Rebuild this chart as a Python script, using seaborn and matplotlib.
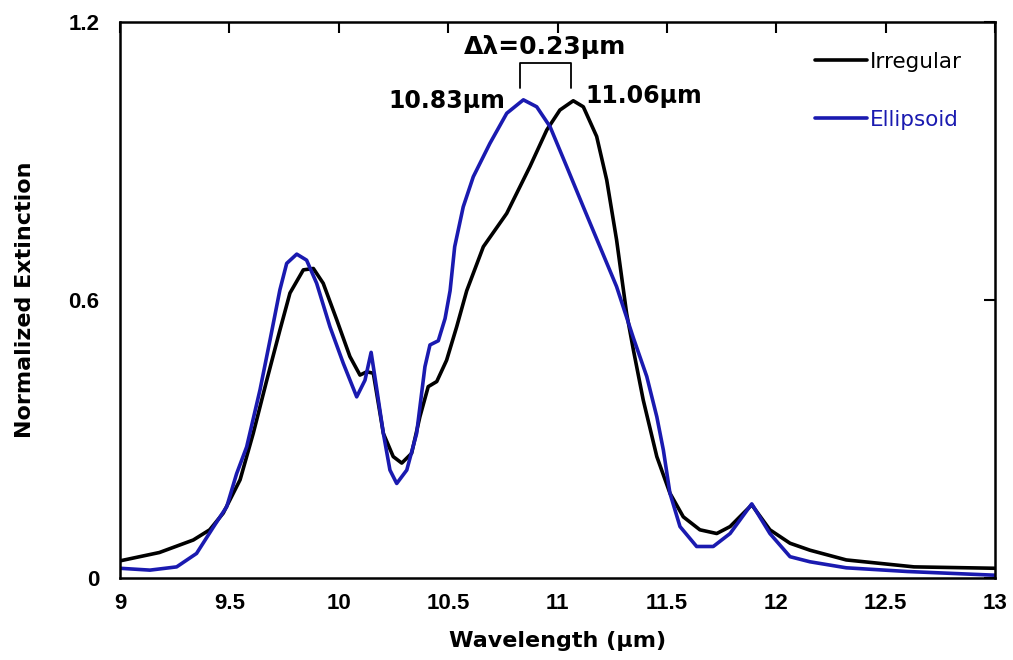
import numpy as np
import pandas as pd
import matplotlib
matplotlib.use("Agg")
import matplotlib.pyplot as plt
import seaborn as sns

# ---------------- data ----------------
irr_x = [9.0, 9.18, 9.335, 9.41, 9.472, 9.549, 9.609, 9.671, 9.731, 9.777, 9.838, 9.884,
         9.929, 9.991, 10.051, 10.097, 10.128, 10.158, 10.204, 10.249, 10.288, 10.333,
         10.371, 10.409, 10.448, 10.493, 10.539, 10.585, 10.661, 10.768, 10.874, 10.951,
         11.011, 11.072, 11.118, 11.179, 11.225, 11.27, 11.316, 11.347, 11.392, 11.454,
         11.514, 11.575, 11.651, 11.728, 11.789, 11.888, 11.971, 12.063, 12.154, 12.32,
         12.63, 13.0]
irr_y = [0.037, 0.055, 0.082, 0.104, 0.14, 0.212, 0.312, 0.427, 0.535, 0.615, 0.665, 0.668,
         0.636, 0.557, 0.478, 0.438, 0.445, 0.442, 0.312, 0.262, 0.248, 0.269,
         0.348, 0.413, 0.424, 0.47, 0.542, 0.62, 0.715, 0.787, 0.888, 0.967,
         1.01, 1.03, 1.017, 0.953, 0.859, 0.73, 0.571, 0.492, 0.384, 0.262,
         0.183, 0.132, 0.104, 0.096, 0.111, 0.158, 0.104, 0.075, 0.06, 0.039,
         0.024, 0.021]

ell_x = [9.0, 9.137, 9.259, 9.35, 9.427, 9.488, 9.533, 9.579, 9.64, 9.686, 9.731, 9.762,
         9.808, 9.853, 9.899, 9.96, 10.021, 10.082, 10.12, 10.148, 10.173, 10.204, 10.234,
         10.265, 10.311, 10.356, 10.394, 10.417, 10.455, 10.486, 10.509, 10.53, 10.569,
         10.615, 10.691, 10.768, 10.844, 10.905, 10.966, 11.042, 11.118, 11.194, 11.27,
         11.347, 11.408, 11.454, 11.484, 11.514, 11.56, 11.636, 11.712, 11.789, 11.888,
         11.971, 12.063, 12.154, 12.32, 12.6, 13.0]
ell_y = [0.021, 0.017, 0.024, 0.053, 0.11, 0.154, 0.225, 0.283, 0.406, 0.514, 0.622, 0.679,
         0.699, 0.686, 0.636, 0.542, 0.463, 0.391, 0.427, 0.487, 0.41, 0.312, 0.233,
         0.204, 0.233, 0.312, 0.456, 0.503, 0.512, 0.56, 0.62, 0.715, 0.801,
         0.866, 0.938, 1.003, 1.032, 1.017, 0.974, 0.888, 0.801, 0.715, 0.629,
         0.518, 0.435, 0.348, 0.276, 0.183, 0.111, 0.068, 0.068, 0.096, 0.16,
         0.096, 0.046, 0.035, 0.022, 0.014, 0.006]

series_names = ["Irregular", "Ellipsoid"]
series_colors = ["#000000", "#1a1ab0"]
x_ticks = [9, 9.5, 10, 10.5, 11, 11.5, 12, 12.5, 13]
x_tick_labels = ["9", "9.5", "10", "10.5", "11", "11.5", "12", "12.5", "13"]
y_ticks = [0, 0.6, 1.2]
y_tick_labels = ["0", "0.6", "1.2"]
peak_pos = [10.83, 11.06]
peak_labels = ["10.83\u03bcm", "11.06\u03bcm"]
delta_label = "\u0394\u03bb=0.23\u03bcm"

df = pd.concat([
    pd.DataFrame({"x": irr_x, "y": irr_y, "series": series_names[0]}),
    pd.DataFrame({"x": ell_x, "y": ell_y, "series": series_names[1]}),
], ignore_index=True)

# ---------------- style ----------------
sns.set_theme(style="white")
plt.rcParams["font.family"] = ["DejaVu Sans"]
plt.rcParams["text.color"] = "black"
plt.rcParams["axes.labelcolor"] = "black"

fig = plt.figure(figsize=(10.13, 6.6), dpi=100)
ax = fig.add_axes([120 / 1013, 82 / 660, 875 / 1013, 556 / 660])

sns.lineplot(data=df, x="x", y="y", hue="series", hue_order=series_names,
             palette=dict(zip(series_names, series_colors)), estimator=None,
             sort=False, linewidth=2.6, ax=ax, legend=True)

ax.set_xlim(9, 13)
ax.set_ylim(0, 1.2)
ax.set_xticks(x_ticks)
ax.set_xticklabels(x_tick_labels)
ax.set_yticks(y_ticks)
ax.set_yticklabels(y_tick_labels)
ax.tick_params(direction="in", length=8, width=1.5, top=True, right=True,
               colors="black")
ax.tick_params(axis="x", pad=11)
ax.tick_params(axis="y", pad=15)
tick_family = ["Liberation Sans Narrow", "Liberation Sans", "DejaVu Sans"]
for lab in ax.get_xticklabels() + ax.get_yticklabels():
    lab.set_fontweight("bold")
    lab.set_fontsize(16)
    lab.set_family(tick_family)
    lab.set_color("black")
for sp in ax.spines.values():
    sp.set_visible(True)
    sp.set_linewidth(1.8)
    sp.set_color("black")

ax.set_xlabel("Wavelength (\u03bcm)", fontsize=16, fontweight="bold", labelpad=12,
              color="black")
ax.set_ylabel("Normalized Extinction", fontsize=16, fontweight="bold", labelpad=24,
              color="black")

# legend
handles, labels = ax.get_legend_handles_labels()
leg = ax.legend(handles, labels, loc="upper left", bbox_to_anchor=(0.794, 0.946),
                borderaxespad=0, borderpad=0,
                frameon=False, fontsize=15.5, handlelength=2.45, handletextpad=0.1,
                labelspacing=1.75)
for txt, c in zip(leg.get_texts(), series_colors):
    txt.set_color(c)
for ln in leg.get_lines():
    ln.set_linewidth(2.6)

# annotations
ax.plot([peak_pos[0], peak_pos[0], peak_pos[1], peak_pos[1]],
        [1.058, 1.111, 1.111, 1.058], color="black", linewidth=1.3)
ax.text(sum(peak_pos) / 2, 1.146, delta_label, ha="center", va="center",
        fontsize=18, fontweight="bold", color="black")
ax.text(10.76, 1.03, peak_labels[0], ha="right", va="center",
        fontsize=17, fontweight="bold", color="black")
ax.text(11.126, 1.04, peak_labels[1], ha="left", va="center",
        fontsize=17, fontweight="bold", color="black")

fig.savefig("out.png", dpi=100)
